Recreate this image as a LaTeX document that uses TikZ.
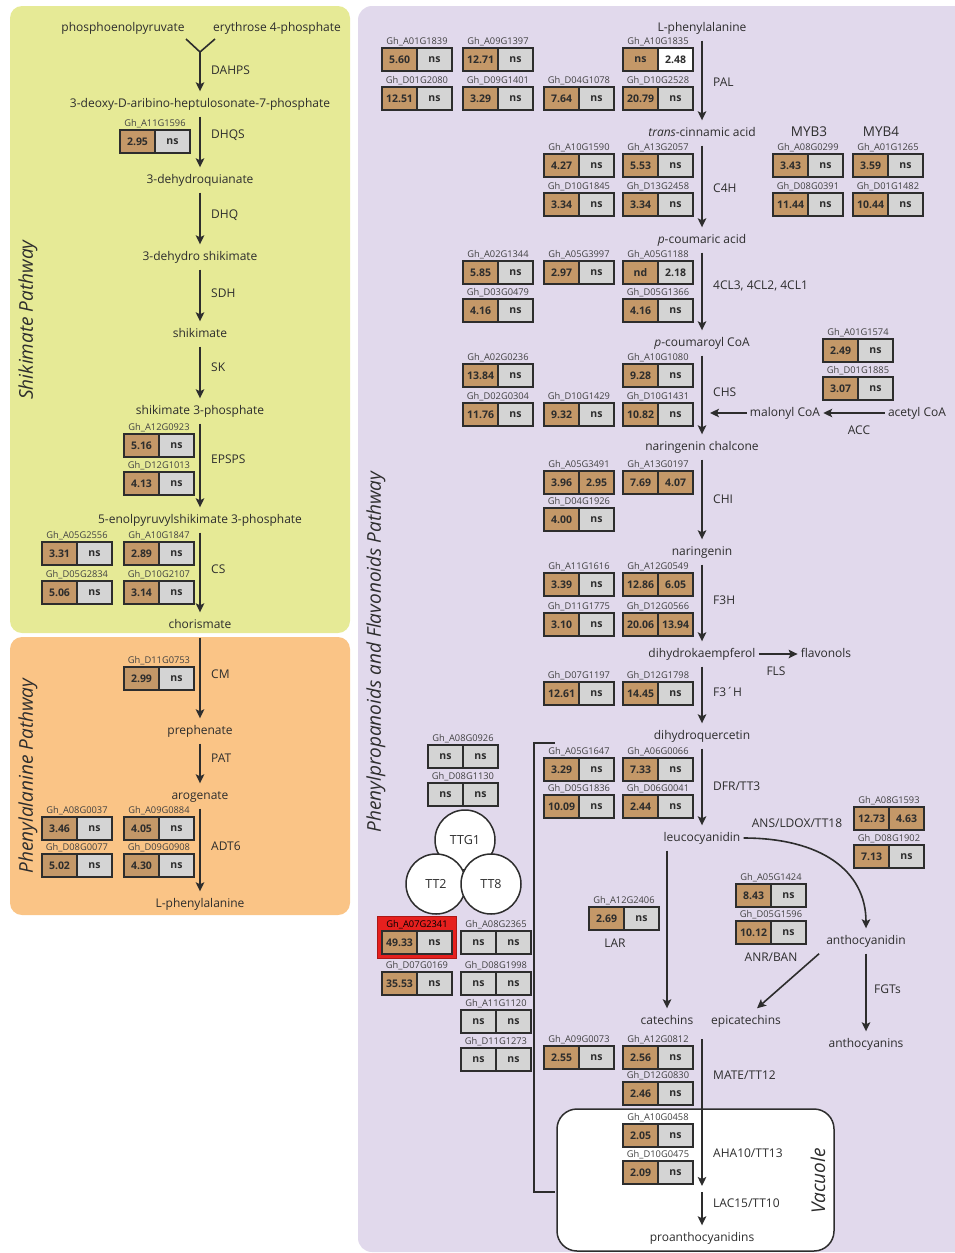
\documentclass[tikz,border=0pt]{standalone}
\usepackage{fontspec}
\setmainfont{Open Sans}
\usetikzlibrary{arrows.meta}

\definecolor{shikbg}{RGB}{230,234,150}
\definecolor{phebg}{RGB}{250,196,134}
\definecolor{flavbg}{RGB}{225,217,236}
\definecolor{upbrown}{RGB}{196,152,104}
\definecolor{nsgrey}{RGB}{212,212,212}
\definecolor{hitred}{RGB}{230,32,30}
\definecolor{ink}{RGB}{45,45,45}
\definecolor{boxline}{RGB}{45,45,45}

% gene box: id, x, y (top left), left value, right value, left fill, right fill
\newcommand{\genebox}[7]{%
  \node[genelbl] (g#1) at (#2+35,#3-6) {Gh\_#1};
  \node[cell,#6] (g#1-l) at (#2+17.5,#3+11.5) {#4};
  \node[cell,#7] (g#1-r) at (#2+52.5,#3+11.5) {#5};
}

\begin{document}
\begin{tikzpicture}[x=1pt,y=-1pt,font=\fontsize{12}{14}\selectfont,text=ink]

    \tikzset{
      met/.style={inner xsep=3pt,inner ysep=7pt,text height=8.5pt,text depth=2.5pt},
      enz/.style={anchor=west,inner sep=0pt},
      enzc/.style={inner sep=0pt},
      arr/.style={line width=1.6pt,draw=ink,-{Stealth[length=9pt,width=8.5pt,inset=2pt]}},
      genelbl/.style={font=\fontsize{9.3}{10}\selectfont,text=ink!90,inner sep=0pt},
      cell/.style={draw=boxline,line width=1.5pt,minimum width=35pt,minimum height=23pt,
        inner sep=0pt,font=\fontsize{10.5}{12}\selectfont\bfseries},
      brn/.style={fill=upbrown},
      gry/.style={fill=nsgrey},
      wht/.style={fill=white},
      title/.style={font=\fontsize{19}{22}\selectfont\itshape,rotate=90},
      ttg/.style={circle,draw=boxline,line width=1.5pt,fill=white,minimum size=60pt,
        inner sep=0pt,font=\fontsize{12.5}{14}\selectfont},
    }
    \useasboundingbox (0,0) rectangle (955,1253);
    \clip (0,0) rectangle (955,1253);

    \fill[shikbg,rounded corners=12pt] (10,6) rectangle (350,633);
    \fill[phebg,rounded corners=12pt] (10,637) rectangle (350,915);
    \fill[flavbg,rounded corners=14pt] (358,6) rectangle (975,1252);
    \filldraw[fill=white,draw=boxline,line width=1.5pt,rounded corners=20pt] (557,1109) rectangle (834,1251);

    \node[title] (t-shik) at (28,320) {Shikimate Pathway};
    \node[title] (t-phe) at (28,776) {Phenylalanine Pathway};
    \node[title] (t-flav) at (376,652) {Phenylpropanoids and Flavonoids Pathway};
    \node[title] (t-vac) at (818,1181) {Vacuole};

    % shikimate and phenylalanine
    \node[met] (pep) at (123,28) {phosphoenolpyruvate};
    \node[met] (e4p) at (277,28) {erythrose 4-phosphate};
    \node[met] (dahp) at (200,104) {3-deoxy-D-aribino-heptulosonate-7-phosphate};
    \node[met] (dhqn) at (200,180) {3-dehydroquianate};
    \node[met] (dhs) at (200,257) {3-dehydro shikimate};
    \node[met] (shk) at (200,334) {shikimate};
    \node[met] (s3p) at (200,411) {shikimate 3-phosphate};
    \node[met] (epsp) at (200,520) {5-enolpyruvylshikimate 3-phosphate};
    \node[met] (chor) at (200,625) {chorismate};
    \node[met] (preph) at (200,731) {prephenate};
    \node[met] (arog) at (200,796) {arogenate};
    \node[met] (phe) at (200,904) {L-phenylalanine};

    \coordinate (join-l) at (186,39);
    \coordinate (join-r) at (215,39);
    \coordinate (join) at (200,52);
    \draw[line width=1.6pt,ink] (join-l) -- (join) -- (join-r);
    \draw[arr] (join) -- (dahp);
    \draw[arr] (dahp) -- (dhqn);
    \draw[arr] (dhqn) -- (dhs);
    \draw[arr] (dhs) -- (shk);
    \draw[arr] (shk) -- (s3p);
    \draw[arr] (s3p) -- (epsp);
    \draw[arr] (epsp) -- (chor);
    \draw[arr] (chor) -- (preph);
    \draw[arr] (preph) -- (arog);
    \draw[arr] (arog) -- (phe);

    \node[enz] (e-dahps) at (211,70) {DAHPS};
    \node[enz] (e-dhqs) at (211,135) {DHQS};
    \node[enz] (e-dhq) at (211,215) {DHQ};
    \node[enz] (e-sdh) at (211,293) {SDH};
    \node[enz] (e-sk) at (211,367) {SK};
    \node[enz] (e-epsps) at (211,459) {EPSPS};
    \node[enz] (e-cs) at (211,569) {CS};
    \node[enz] (e-cm) at (211,674) {CM};
    \node[enz] (e-pat) at (211,758) {PAT};
    \node[enz] (e-adt) at (211,846) {ADT6};

    \genebox{A11G1596}{120}{130}{2.95}{ns}{brn}{gry}
    \genebox{A12G0923}{124}{434}{5.16}{ns}{brn}{gry}
    \genebox{D12G1013}{124}{472}{4.13}{ns}{brn}{gry}
    \genebox{A05G2556}{42}{542}{3.31}{ns}{brn}{gry}
    \genebox{A10G1847}{124}{542}{2.89}{ns}{brn}{gry}
    \genebox{D05G2834}{42}{581}{5.06}{ns}{brn}{gry}
    \genebox{D10G2107}{124}{581}{3.14}{ns}{brn}{gry}
    \genebox{D11G0753}{124}{667}{2.99}{ns}{brn}{gry}
    \genebox{A08G0037}{42}{817}{3.46}{ns}{brn}{gry}
    \genebox{A09G0884}{124}{817}{4.05}{ns}{brn}{gry}
    \genebox{D08G0077}{42}{854}{5.02}{ns}{brn}{gry}
    \genebox{D09G0908}{124}{854}{4.30}{ns}{brn}{gry}

    % phenylpropanoids and flavonoids
    \node[met] (phe2) at (702,28) {L-phenylalanine};
    \node[met] (cinn) at (702,133) {\textit{trans}-cinnamic acid};
    \node[met] (pcou) at (702,240) {\textit{p}-coumaric acid};
    \node[met] (pcoa) at (702,343) {\textit{p}-coumaroyl CoA};
    \node[met] (chal) at (702,447) {naringenin chalcone};
    \node[met] (nar) at (702,552) {naringenin};
    \node[met] (dhk) at (702,654) {dihydrokaempferol};
    \node[met] (flav) at (826,654) {flavonols};
    \node[met] (dhq) at (702,736) {dihydroquercetin};
    \node[met] (leuco) at (702,838) {leucocyanidin};
    \node[met] (antho) at (866,941) {anthocyanidin};
    \node[met] (cat) at (667,1021) {catechins};
    \node[met] (epi) at (746,1021) {epicatechins};
    \node[met] (acy) at (866,1044) {anthocyanins};
    \node[met] (pac) at (702,1238) {proanthocyanidins};
    \node[met] (mal) at (785,413) {malonyl CoA};
    \node[met] (acoa) at (917,413) {acetyl CoA};

    \coordinate (chs-in) at (710,413);
    \coordinate (mate-a) at (702,1039);
    \coordinate (mate-b) at (702,1186);
    \coordinate (lac-a) at (702,1192);

    \draw[arr] (phe2) -- (cinn);
    \draw[arr] (cinn) -- (pcou);
    \draw[arr] (pcou) -- (pcoa);
    \draw[arr] (pcoa) -- (chal);
    \draw[arr] (chal) -- (nar);
    \draw[arr] (nar) -- (dhk);
    \draw[arr] (dhk) -- (dhq);
    \draw[arr] (dhq) -- (leuco);
    \draw[arr] (dhk) -- (flav);
    \draw[arr] (acoa) -- (mal);
    \draw[arr] (mal) -- (chs-in);
    \draw[arr] (leuco.east) .. controls (820,838) and (866,870) .. (antho.north);
    \draw[arr] (leuco.south -| cat.north) -- (cat.north);
    \draw[arr] ([xshift=-4pt]antho.south west) -- ([xshift=11pt]epi.north);
    \draw[arr] (antho) -- (acy);
    \draw[arr] (mate-a) -- (mate-b);
    \draw[arr] (lac-a) -- (pac);

    \node[enz] (e-pal) at (713,82) {PAL};
    \node[enz] (e-c4h) at (713,188) {C4H};
    \node[enz] (e-4cl) at (713,286) {4CL3, 4CL2, 4CL1};
    \node[enz] (e-chs) at (713,392) {CHS};
    \node[enz] (e-chi) at (713,499) {CHI};
    \node[enz] (e-f3h) at (713,600) {F3H};
    \node[enz] (e-f3ph) at (713,692) {F3´H};
    \node[enz] (e-dfr) at (713,786) {DFR/TT3};
    \node[enz] (e-mate) at (713,1075) {MATE/TT12};
    \node[enz] (e-aha) at (713,1153) {AHA10/TT13};
    \node[enz] (e-lac) at (713,1203) {LAC15/TT10};
    \node[enz] (e-fgt) at (874,989) {FGTs};
    \node[enzc] (e-fls) at (776,671) {FLS};
    \node[enzc] (e-acc) at (859,430) {ACC};
    \node[enzc] (e-ans) at (797,823) {ANS/LDOX/TT18};
    \node[enzc] (e-anr) at (771,957) {ANR/BAN};
    \node[enzc] (e-lar) at (615,943) {LAR};
    \node[enzc,font=\fontsize{13.5}{15}\selectfont] (e-myb3) at (809,132) {MYB3};
    \node[enzc,font=\fontsize{13.5}{15}\selectfont] (e-myb4) at (881,132) {MYB4};

    \genebox{A01G1839}{382}{48}{5.60}{ns}{brn}{gry}
    \genebox{A09G1397}{463}{48}{12.71}{ns}{brn}{gry}
    \genebox{A10G1835}{623}{48}{ns}{2.48}{brn}{wht}
    \genebox{D01G2080}{382}{87}{12.51}{ns}{brn}{gry}
    \genebox{D09G1401}{463}{87}{3.29}{ns}{brn}{gry}
    \genebox{D04G1078}{544}{87}{7.64}{ns}{brn}{gry}
    \genebox{D10G2528}{623}{87}{20.79}{ns}{brn}{gry}
    \genebox{A10G1590}{544}{154}{4.27}{ns}{brn}{gry}
    \genebox{A13G2057}{623}{154}{5.53}{ns}{brn}{gry}
    \genebox{D10G1845}{544}{193}{3.34}{ns}{brn}{gry}
    \genebox{D13G2458}{623}{193}{3.34}{ns}{brn}{gry}
    \genebox{A08G0299}{773}{154}{3.43}{ns}{brn}{gry}
    \genebox{A01G1265}{853}{154}{3.59}{ns}{brn}{gry}
    \genebox{D08G0391}{773}{193}{11.44}{ns}{brn}{gry}
    \genebox{D01G1482}{853}{193}{10.44}{ns}{brn}{gry}
    \genebox{A02G1344}{463}{261}{5.85}{ns}{brn}{gry}
    \genebox{A05G3997}{544}{261}{2.97}{ns}{brn}{gry}
    \genebox{A05G1188}{623}{261}{nd}{2.18}{brn}{gry}
    \genebox{D03G0479}{463}{299}{4.16}{ns}{brn}{gry}
    \genebox{D05G1366}{623}{299}{4.16}{ns}{brn}{gry}
    \genebox{A02G0236}{463}{364}{13.84}{ns}{brn}{gry}
    \genebox{A10G1080}{623}{364}{9.28}{ns}{brn}{gry}
    \genebox{D02G0304}{463}{403}{11.76}{ns}{brn}{gry}
    \genebox{D10G1429}{544}{403}{9.32}{ns}{brn}{gry}
    \genebox{D10G1431}{623}{403}{10.82}{ns}{brn}{gry}
    \genebox{A01G1574}{823}{339}{2.49}{ns}{brn}{gry}
    \genebox{D01G1885}{823}{377}{3.07}{ns}{brn}{gry}
    \genebox{A05G3491}{544}{471}{3.96}{2.95}{brn}{brn}
    \genebox{A13G0197}{623}{471}{7.69}{4.07}{brn}{brn}
    \genebox{D04G1926}{544}{508}{4.00}{ns}{brn}{gry}
    \genebox{A11G1616}{544}{573}{3.39}{ns}{brn}{gry}
    \genebox{A12G0549}{623}{573}{12.86}{6.05}{brn}{brn}
    \genebox{D11G1775}{544}{613}{3.10}{ns}{brn}{gry}
    \genebox{D12G0566}{623}{613}{20.06}{13.94}{brn}{brn}
    \genebox{D07G1197}{544}{682}{12.61}{ns}{brn}{gry}
    \genebox{D12G1798}{623}{682}{14.45}{ns}{brn}{gry}
    \genebox{A05G1647}{544}{758}{3.29}{ns}{brn}{gry}
    \genebox{A06G0066}{623}{758}{7.33}{ns}{brn}{gry}
    \genebox{D05G1836}{544}{795}{10.09}{ns}{brn}{gry}
    \genebox{D06G0041}{623}{795}{2.44}{ns}{brn}{gry}
    \genebox{A08G1593}{854}{807}{12.73}{4.63}{brn}{brn}
    \genebox{D08G1902}{854}{845}{7.13}{ns}{brn}{gry}
    \genebox{A05G1424}{736}{884}{8.43}{ns}{brn}{gry}
    \genebox{D05G1596}{736}{921}{10.12}{ns}{brn}{gry}
    \genebox{A12G2406}{589}{907}{2.69}{ns}{brn}{gry}
    \genebox{A09G0073}{544}{1046}{2.55}{ns}{brn}{gry}
    \genebox{A12G0812}{623}{1046}{2.56}{ns}{brn}{gry}
    \genebox{D12G0830}{623}{1082}{2.46}{ns}{brn}{gry}
    \genebox{A10G0458}{623}{1124}{2.05}{ns}{brn}{gry}
    \genebox{D10G0475}{623}{1161}{2.09}{ns}{brn}{gry}

    % TTG1 / TT2 / TT8 complex
    \draw[line width=1.5pt,boxline] (555,743) -- (534,743) -- (534,1192) -- (555,1192);
    \node[ttg] (ttg1) at (465,840) {TTG1};
    \node[ttg] (tt2) at (436,884) {TT2};
    \node[ttg] (tt8) at (491,884) {TT8};
    \filldraw[fill=hitred,draw=hitred!75!black,line width=0.8pt] (377,916) rectangle (456,958);

    \genebox{A08G0926}{428}{745}{ns}{ns}{gry}{gry}
    \genebox{D08G1130}{428}{783}{ns}{ns}{gry}{gry}
    \begin{scope}[genelbl/.append style={text=black}]
      \genebox{A07G2341}{382}{931}{49.33}{ns}{brn}{gry}
    \end{scope}
    \genebox{A08G2365}{461}{931}{ns}{ns}{gry}{gry}
    \genebox{D07G0169}{382}{972}{35.53}{ns}{brn}{gry}
    \genebox{D08G1998}{461}{972}{ns}{ns}{gry}{gry}
    \genebox{A11G1120}{461}{1010}{ns}{ns}{gry}{gry}
    \genebox{D11G1273}{461}{1048}{ns}{ns}{gry}{gry}

\end{tikzpicture}
\end{document}
